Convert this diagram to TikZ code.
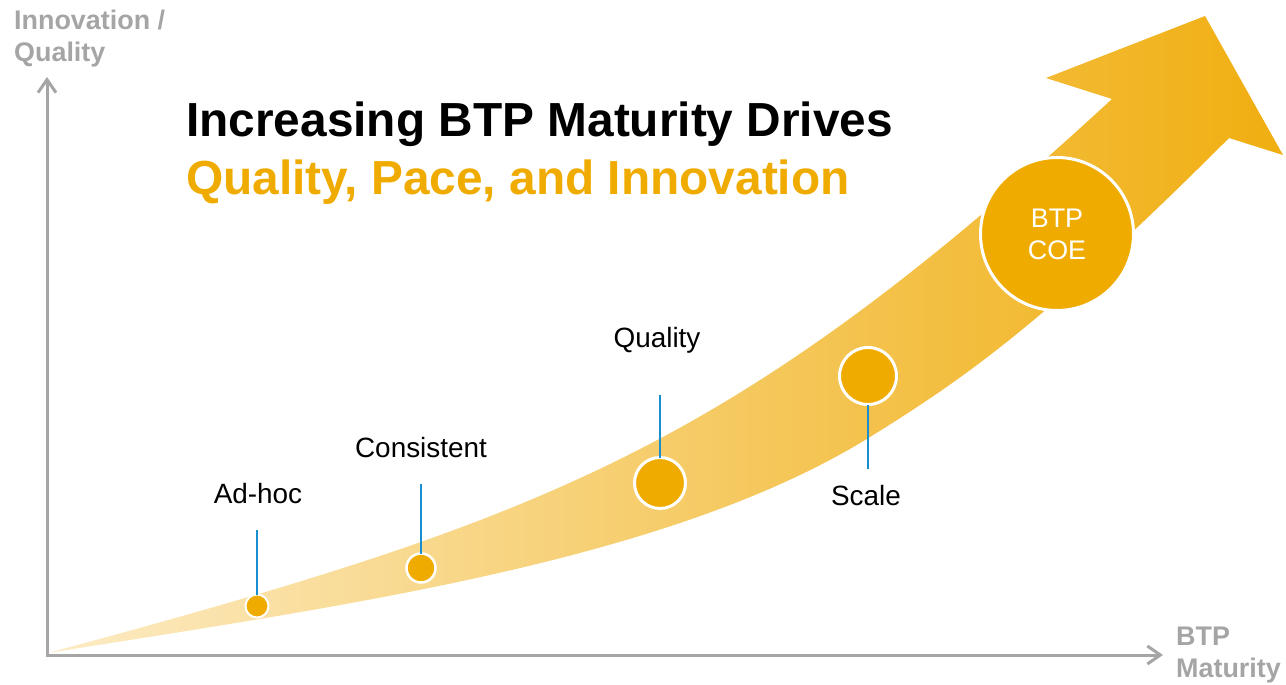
\documentclass[tikz,border=0pt]{standalone}
\usepackage{fontspec}
\setmainfont{Liberation Sans}
\usepackage{xcolor}
\usetikzlibrary{arrows.meta}
\definecolor{sapgold}{HTML}{F0AB00}
\definecolor{bandlight}{HTML}{FCEBC4}
\definecolor{bandmid}{HTML}{F7D486}
\definecolor{banddark}{HTML}{F0AE10}
\definecolor{stemblue}{HTML}{1A8FD0}
\definecolor{axisgray}{HTML}{A5A5A5}

\begin{document}
\begin{tikzpicture}[x=1bp,y=-1bp,
  dot/.style={circle,fill=sapgold,draw=white,inner sep=0pt,outer sep=0pt},
  stage/.style={font=\fontsize{28}{32}\selectfont,inner sep=0pt,anchor=base},
  stem/.style={draw=stemblue,line width=2bp},
  axis/.style={draw=axisgray,line width=3bp,
    {Straight Barb[length=13bp,width=18bp]}-{Straight Barb[length=13bp,width=18bp]}},
  axislabel/.style={text=axisgray,font=\fontsize{27}{32}\selectfont\bfseries,
    align=left,inner sep=0pt,anchor=north west}]
  \useasboundingbox (0,0) rectangle (1286,685);

  % axes
  \coordinate (origin) at (47,655);
  \coordinate (ytip) at (47,77);
  \coordinate (xtip) at (1163,655);
  \draw[axis] (ytip) -- (origin) -- (xtip);
  \node[axislabel] (ylabel) at (14,10) {Innovation /\\Quality};
  \node[axislabel] (xlabel) at (1176,627) {BTP\\Maturity};

  % growth arrow
  \shade[left color=bandlight,middle color=bandmid,right color=banddark]
    (48,653) .. controls (548,518) and (732,449) .. (1112,99)
    -- (1046,78) -- (1205,16) -- (1283,155) -- (1229,138)
    .. controls (1039,328) and (960,381) .. (870,437)
    .. controls (670,561) and (348,605) .. (48,653) -- cycle;

  % title
  \node[inner sep=0pt,anchor=north west,align=left,
    font=\fontsize{48}{58}\selectfont\bfseries] (title) at (186,102)
    {Increasing BTP Maturity Drives\\{\color{sapgold}Quality, Pace, and Innovation}};

  % stages
  \node[dot,line width=2bp,minimum size=23bp] (adhoc) at (257,606) {};
  \node[dot,line width=2.5bp,minimum size=29bp] (consistent) at (421,568) {};
  \node[dot,line width=3bp,minimum size=51bp] (quality) at (660,483) {};
  \node[dot,line width=3bp,minimum size=57bp] (scale) at (868,376) {};
  \node[dot,line width=3bp,minimum size=153bp,text=white,align=center,
    font=\fontsize{27}{32}\selectfont] (coe) at (1057,234) {BTP\\COE};

  \node[stage] (adhoc-txt) at (258,503) {Ad-hoc};
  \node[stage] (consistent-txt) at (421,457) {Consistent};
  \node[stage] (quality-txt) at (657,347) {Quality};
  \node[stage] (scale-txt) at (866,505) {Scale};

  \coordinate (adhoc-end) at (257,530);
  \coordinate (consistent-end) at (421,484);
  \coordinate (quality-end) at (660,395);
  \coordinate (scale-end) at (868,469);
  \foreach \s in {adhoc,consistent,quality,scale}
    \draw[stem] (\s-end) -- (\s);
\end{tikzpicture}
\end{document}
